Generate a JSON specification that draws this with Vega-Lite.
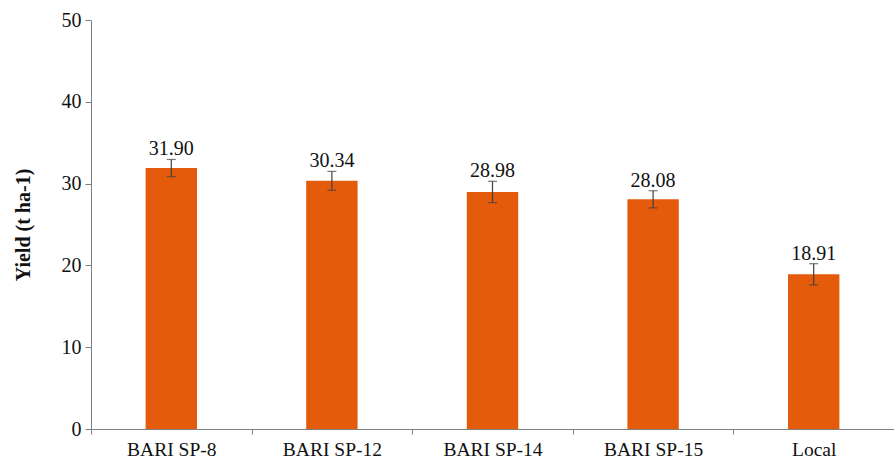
{
  "$schema": "https://vega.github.io/schema/vega-lite/v6.json",
  "autosize": "none",
  "width": 803,
  "height": 409,
  "padding": {"left": 91, "top": 20, "right": 0, "bottom": 31},
  "background": "white",
  "config": {
    "view": {"stroke": null},
    "font": "'Liberation Serif', serif"
  },
  "data": {
    "values": [
      {"variety": "BARI SP-8", "yield": 31.90, "err": 1.05, "label": "31.90"},
      {"variety": "BARI SP-12", "yield": 30.34, "err": 1.15, "label": "30.34"},
      {"variety": "BARI SP-14", "yield": 28.98, "err": 1.3, "label": "28.98"},
      {"variety": "BARI SP-15", "yield": 28.08, "err": 1.05, "label": "28.08"},
      {"variety": "Local", "yield": 18.91, "err": 1.3, "label": "18.91"}
    ]
  },
  "transform": [
    {"calculate": "datum.yield - datum.err", "as": "lo"},
    {"calculate": "datum.yield + datum.err", "as": "hi"}
  ],
  "encoding": {
    "x": {
      "field": "variety",
      "type": "nominal",
      "sort": null,
      "scale": {"paddingInner": 0, "paddingOuter": 0},
      "axis": {
        "title": null,
        "labelAngle": 0,
        "labelFont": "'Liberation Serif', serif",
        "labelFontSize": 19.5,
        "labelColor": "#111",
        "labelPadding": 6,
        "domainColor": "#7f7f7f",
        "tickColor": "#7f7f7f",
        "tickBand": "extent",
        "tickSize": 5
      }
    }
  },
  "layer": [
    {
      "mark": {"type": "bar", "color": "#E35B0B", "width": {"band": 0.32}},
      "encoding": {
        "y": {
          "field": "yield",
          "type": "quantitative",
          "scale": {"domain": [0, 50], "nice": false},
          "axis": {
            "title": "Yield (t ha-1)",
            "titleFont": "'Liberation Serif', serif",
            "titleFontSize": 20,
            "titleFontWeight": "bold",
            "titleColor": "#111",
            "titlePadding": 28,
            "values": [0, 10, 20, 30, 40, 50],
            "grid": false,
            "labelFont": "'Liberation Serif', serif",
            "labelFontSize": 20,
            "labelColor": "#111",
            "labelPadding": 4,
            "domainColor": "#7f7f7f",
            "tickColor": "#7f7f7f",
            "tickSize": 6
          }
        }
      }
    },
    {
      "mark": {"type": "rule", "color": "#404040", "strokeWidth": 1.2},
      "encoding": {
        "y": {"field": "lo", "type": "quantitative"},
        "y2": {"field": "hi"}
      }
    },
    {
      "mark": {"type": "tick", "color": "#404040", "thickness": 1.2, "size": 9, "orient": "horizontal"},
      "encoding": {
        "y": {"field": "lo", "type": "quantitative"}
      }
    },
    {
      "mark": {"type": "tick", "color": "#404040", "thickness": 1.2, "size": 9, "orient": "horizontal"},
      "encoding": {
        "y": {"field": "hi", "type": "quantitative"}
      }
    },
    {
      "mark": {"type": "text", "baseline": "alphabetic", "dy": -4, "font": "'Liberation Serif', serif", "fontSize": 20, "color": "#111"},
      "encoding": {
        "y": {"field": "hi", "type": "quantitative"},
        "text": {"field": "label"}
      }
    }
  ]
}
